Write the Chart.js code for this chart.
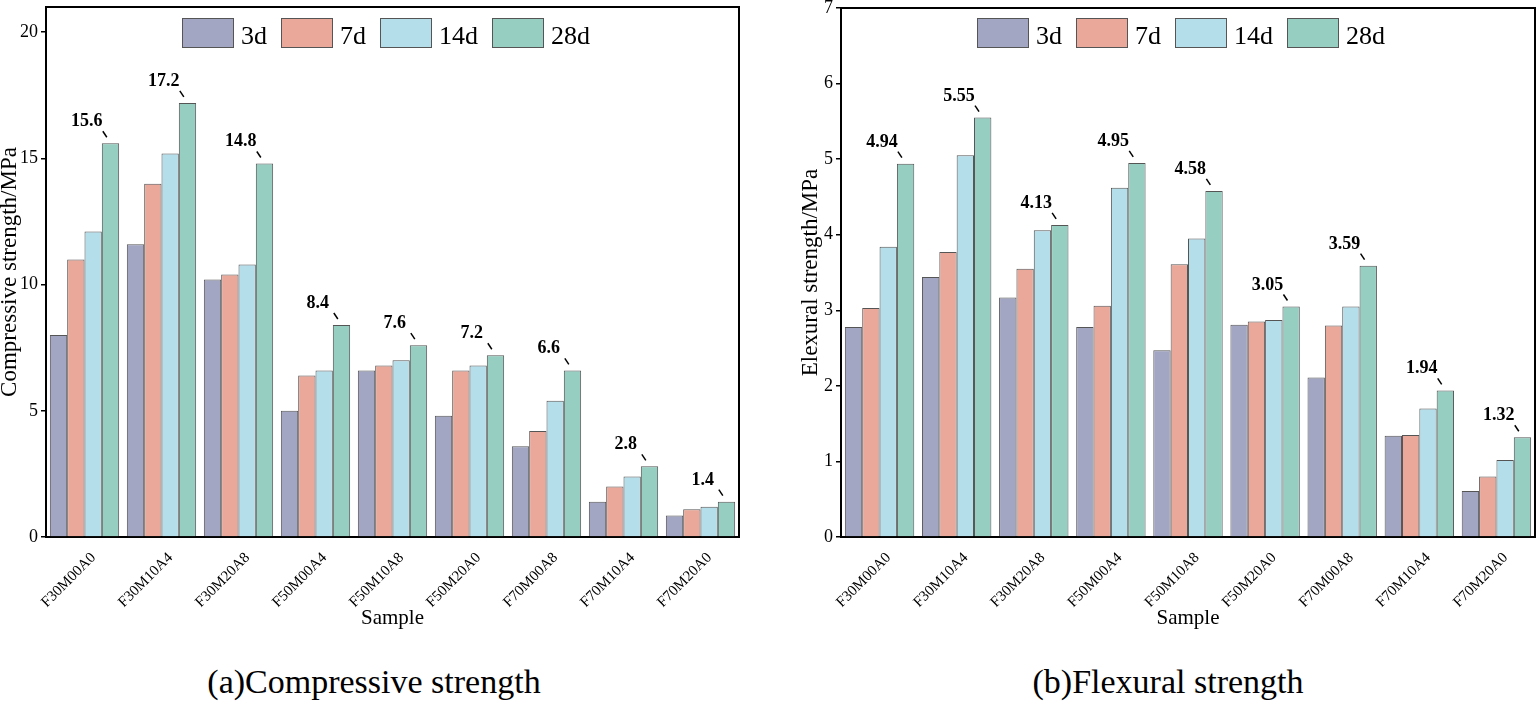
<!DOCTYPE html>
<html>
<head>
<meta charset="utf-8">
<script src="https://cdn.jsdelivr.net/npm/chart.js@4/dist/chart.umd.min.js"></script>
<style>
  body { margin: 0; background: #fff; width: 1536px; height: 703px; position: relative; overflow: hidden; }
  .box { position: absolute; top: 0; }
  .cap { position: absolute; top: 665px; font: 34px/34px "Liberation Serif", "Times New Roman", serif; color: #000; white-space: nowrap; transform: translateX(-50%); }
</style>
</head>
<body>
<div class="box" style="left:0"><canvas id="compChart" width="770" height="640"></canvas></div>
<div class="box" style="left:800px"><canvas id="flexChart" width="736" height="640"></canvas></div>
<div class="cap" style="left:374px">(a)Compressive strength</div>
<div class="cap" style="left:1168px">(b)Flexural strength</div>
<script>
// ——— data ———
const samples = ['F30M00A0', 'F30M10A4', 'F30M20A8', 'F50M00A4', 'F50M10A8', 'F50M20A0', 'F70M00A8', 'F70M10A4', 'F70M20A0'];
const ages = ['3d', '7d', '14d', '28d'];
const ageColors = ['#A2A6C2', '#E9A89A', '#B4DEEA', '#96CEC1'];

const comp3  = [8.0, 11.6, 10.2, 5.0, 6.6, 4.8, 3.6, 1.4, 0.85];
const comp7  = [11.0, 14.0, 10.4, 6.4, 6.8, 6.6, 4.2, 2.0, 1.1];
const comp14 = [12.1, 15.2, 10.8, 6.6, 7.0, 6.8, 5.4, 2.4, 1.2];
const comp28 = [15.6, 17.2, 14.8, 8.4, 7.6, 7.2, 6.6, 2.8, 1.4];

const flex3  = [2.78, 3.44, 3.17, 2.78, 2.47, 2.81, 2.11, 1.34, 0.61];
const flex7  = [3.03, 3.77, 3.55, 3.06, 3.61, 2.85, 2.80, 1.35, 0.80];
const flex14 = [3.84, 5.05, 4.06, 4.62, 3.95, 2.87, 3.05, 1.70, 1.02];
const flex28 = [4.94, 5.55, 4.13, 4.95, 4.58, 3.05, 3.59, 1.94, 1.32];

const serif = '"Liberation Serif", "Times New Roman", serif';

// ——— plugin: frame + legend + 28d labels ———
const decorPlugin = {
  id: 'decor',
  afterDraw(chart) {
    const ctx = chart.ctx;
    const a = chart.chartArea;
    ctx.save();
    // top + right frame
    ctx.strokeStyle = '#000';
    ctx.lineWidth = 2;
    ctx.beginPath();
    ctx.moveTo(a.left, a.top);
    ctx.lineTo(a.right, a.top);
    ctx.lineTo(a.right, a.bottom);
    ctx.stroke();

    // legend inside plot
    ctx.font = '26px ' + serif;
    ctx.textBaseline = 'alphabetic';
    ctx.textAlign = 'left';
    let x = a.left + 136;
    chart.data.datasets.forEach(ds => {
      ctx.fillStyle = ds.backgroundColor;
      ctx.fillRect(x, 18, 51, 29);
      ctx.strokeStyle = '#555';
      ctx.lineWidth = 1;
      ctx.strokeRect(x + 0.5, 18.5, 51, 29);
      x += 51 + 8;
      ctx.fillStyle = '#000';
      ctx.fillText(ds.label, x, 44);
      x += ctx.measureText(ds.label).width + 14;
    });

    // value labels on last series
    const last = chart.data.datasets.length - 1;
    const meta = chart.getDatasetMeta(last);
    ctx.font = 'bold 18px ' + serif;
    ctx.textAlign = 'center';
    ctx.fillStyle = '#000';
    meta.data.forEach((bar, i) => {
      const L = bar.x - bar.width / 2;
      const T = bar.y;
      ctx.fillText(String(chart.data.datasets[last].data[i]), L - 15, T - 17);
      ctx.beginPath();
      ctx.strokeStyle = '#000';
      ctx.lineWidth = 1.5;
      ctx.moveTo(L + 1, T - 12);
      ctx.lineTo(L + 5, T - 6);
      ctx.stroke();
    });
    ctx.restore();
  }
};

function makeChart(id, series, yMax, step, yTitle, yWidth, pad, titleOffset) {
  const ctx = document.getElementById(id).getContext('2d');
  return new Chart(ctx, {
    type: 'bar',
    data: {
      labels: samples,
      datasets: ages.map((age, k) => ({
        label: age,
        data: series[k],
        backgroundColor: ageColors[k],
        borderColor: '#555',
        borderWidth: 1,
        categoryPercentage: 0.9,
        barPercentage: 1.0
      }))
    },
    options: {
      responsive: false,
      animation: false,
      layout: { padding: pad },
      plugins: { legend: { display: false }, tooltip: { enabled: false } },
      scales: {
        x: {
          grid: { display: false },
          border: { display: true, color: '#000', width: 2 },
          ticks: {
            color: '#000', font: { family: serif, size: 15 },
            minRotation: 45, maxRotation: 45, autoSkip: false, padding: 4, labelOffset: 9
          },
          title: {
            display: true, text: 'Sample', color: '#000',
            font: { family: serif, size: 21 }, padding: { top: 0, bottom: 9 }
          },
          afterFit: s => { s.height = 103; s.paddingLeft = 0; s.paddingRight = 0; }
        },
        y: {
          min: 0, max: yMax,
          grid: { drawOnChartArea: false, drawTicks: true, tickLength: 5, color: '#000', lineWidth: 1.5 },
          border: { display: true, color: '#000', width: 2 },
          ticks: { stepSize: step, color: '#000', font: { family: serif, size: 18 }, padding: 3 },
          afterBuildTicks: s => { s.ticks = s.ticks.filter(t => Math.abs(t.value / step - Math.round(t.value / step)) < 1e-6); },
          title: {
            display: true, text: yTitle, color: '#000',
            font: { family: serif, size: 23, lineHeight: 0.85 }, padding: { top: titleOffset, bottom: 0 }
          },
          afterFit: s => { s.width = yWidth; s.paddingTop = 0; s.paddingBottom = 0; }
        }
      }
    },
    plugins: [decorPlugin]
  });
}

makeChart('compChart', [comp3, comp7, comp14, comp28], 21, 5,
  'Compressive strength/MPa', 46, { left: 0, right: 31, top: 7, bottom: 0 }, 0);
makeChart('flexChart', [flex3, flex7, flex14, flex28], 7, 1,
  'Elexural strength/MPa', 41, { left: 0, right: 1, top: 8, bottom: 0 }, 1);
</script>
</body>
</html>
